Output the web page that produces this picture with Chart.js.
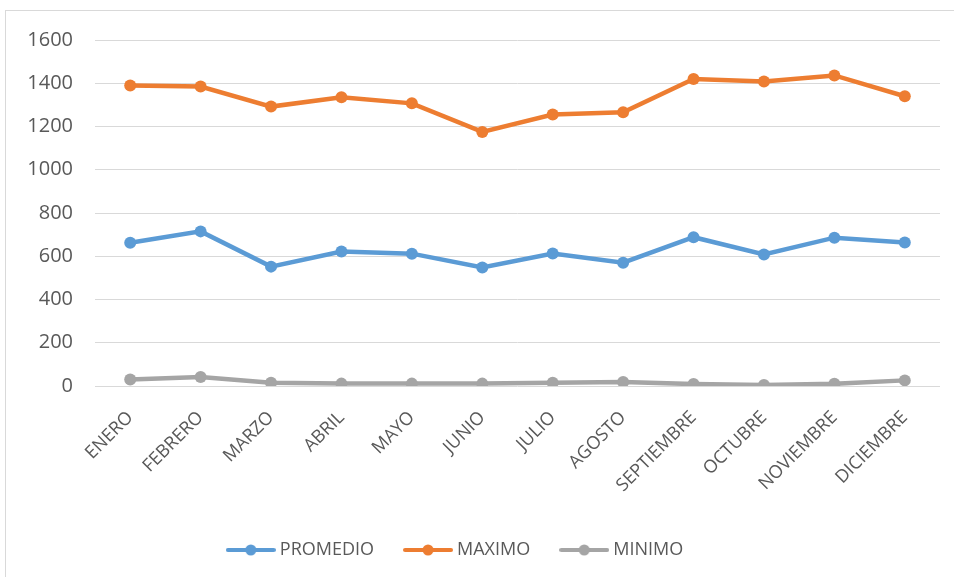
<!DOCTYPE html>
<html>
<head>
<meta charset="utf-8">
<script src="https://cdn.jsdelivr.net/npm/chart.js@4"></script>
<style>
  html, body { margin: 0; padding: 0; background: #fff; }
  #frame { position: absolute; left: 5px; top: 10px; width: 960px; height: 580px; border: 1px solid #d9d9d9; }
  #wrap { position: absolute; left: 0; top: 0; width: 954px; height: 577px; }
</style>
</head>
<body>
<div id="frame"></div>
<div id="wrap"><canvas id="grafico"></canvas></div>
<script>
// Datos
const meses = ['ENERO', 'FEBRERO', 'MARZO', 'ABRIL', 'MAYO', 'JUNIO', 'JULIO', 'AGOSTO', 'SEPTIEMBRE', 'OCTUBRE', 'NOVIEMBRE', 'DICIEMBRE'];
const promedio = [662, 715, 552, 622, 612, 548, 613, 570, 688, 608, 686, 664];
const maximo = [1390, 1385, 1292, 1335, 1307, 1175, 1255, 1266, 1420, 1408, 1436, 1340];
const minimo = [30, 42, 15, 11, 11, 11, 15, 18, 9, 5, 10, 26];
const ticksY = [0, 200, 400, 600, 800, 1000, 1200, 1400, 1600];

const colores = ['#5B9BD5', '#ED7D31', '#A5A5A5'];

// Icono de leyenda: linea con circulo al centro
function iconoLeyenda(color) {
    const c = document.createElement('canvas');
    c.width = 50;
    c.height = 14;
    const g = c.getContext('2d');
    g.strokeStyle = color;
    g.lineWidth = 4;
    g.lineCap = 'round';
    g.beginPath();
    g.moveTo(2, 7);
    g.lineTo(48, 7);
    g.stroke();
    g.fillStyle = color;
    g.beginPath();
    g.arc(25, 7, 5.5, 0, Math.PI * 2);
    g.fill();
    return c;
}

function serie(label, data, color) {
    return {
        label: label,
        data: data,
        borderColor: color,
        backgroundColor: color,
        borderWidth: 4.5,
        pointRadius: 6,
        pointHoverRadius: 6,
        pointBackgroundColor: color,
        pointBorderWidth: 0,
        pointStyle: 'circle',
        tension: 0
    };
}

// Mover la leyenda un poco a la izquierda, como en el original
const moverLeyenda = {
    id: 'moverLeyenda',
    afterLayout(chart) {
        chart.legend.left -= 13;
        chart.legend.right -= 13;
    }
};

const ctx = document.getElementById('grafico').getContext('2d');
const grafico = new Chart(ctx, {
    type: 'line',
    data: {
        labels: meses,
        datasets: [
            serie('PROMEDIO', promedio, colores[0]),
            serie('MAXIMO', maximo, colores[1]),
            serie('MINIMO', minimo, colores[2])
        ]
    },
    options: {
        responsive: true,
        maintainAspectRatio: false,
        animation: false,
        layout: { padding: { top: 40, right: 14, bottom: 8, left: 0 } },
        plugins: {
            tooltip: { enabled: false },
            legend: {
                position: 'bottom',
                labels: {
                    usePointStyle: true,
                    pointStyleWidth: 40,
                    color: '#595959',
                    font: { family: 'Open Sans', size: 18 },
                    padding: 34,
                    generateLabels: (chart) => chart.data.datasets.map((ds, i) => ({
                        text: ds.label,
                        pointStyle: iconoLeyenda(colores[i]),
                        fillStyle: colores[i],
                        strokeStyle: colores[i],
                        lineWidth: 0,
                        fontColor: '#595959',
                        datasetIndex: i,
                        hidden: false
                    }))
                }
            }
        },
        scales: {
            x: {
                offset: true,
                grid: { display: false },
                border: { display: false },
                ticks: {
                    color: '#595959',
                    font: { family: 'Open Sans', size: 18 },
                    minRotation: 45,
                    maxRotation: 45,
                    padding: 13
                },
                afterFit: (scale) => { scale.height = 121; }
            },
            y: {
                min: 0,
                max: 1600,
                afterBuildTicks: (scale) => { scale.ticks = ticksY.map(v => ({ value: v })); },
                grid: { color: '#d9d9d9', lineWidth: 1, drawTicks: false },
                border: { display: false },
                ticks: {
                    color: '#595959',
                    font: { family: 'Open Sans', size: 20 },
                    padding: 22,
                    callback: (v) => String(v)
                },
                afterFit: (scale) => { scale.width = 95; }
            }
        }
    },
    plugins: [moverLeyenda]
});
</script>
</body>
</html>
